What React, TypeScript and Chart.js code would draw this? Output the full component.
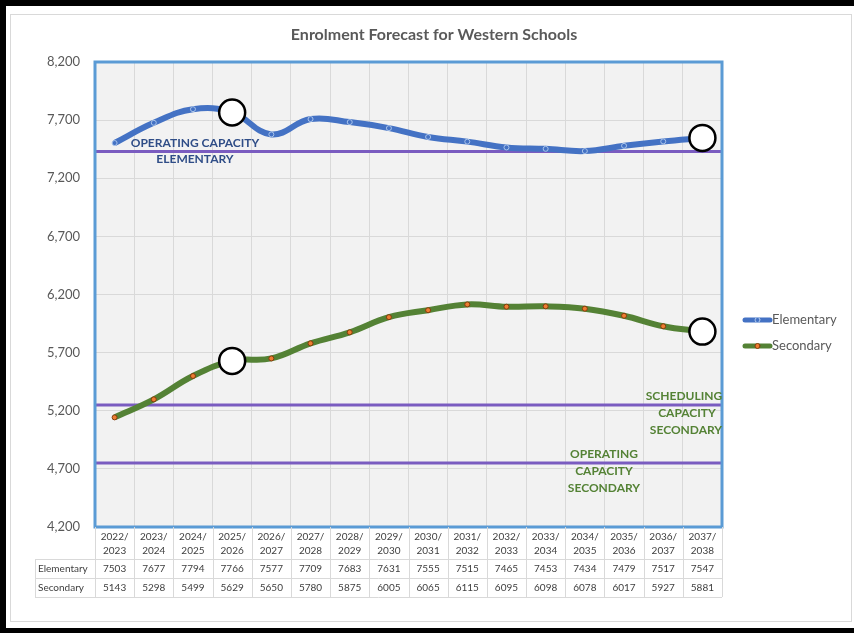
import React, { useEffect, useRef } from "react";
import { Chart, registerables } from "chart.js";

Chart.register(...registerables);

const categories: string[][] = [
  ["2022/", "2023"], ["2023/", "2024"], ["2024/", "2025"], ["2025/", "2026"],
  ["2026/", "2027"], ["2027/", "2028"], ["2028/", "2029"], ["2029/", "2030"],
  ["2030/", "2031"], ["2031/", "2032"], ["2032/", "2033"], ["2033/", "2034"],
  ["2034/", "2035"], ["2035/", "2036"], ["2036/", "2037"], ["2037/", "2038"],
];
const elementary = [7503, 7677, 7794, 7766, 7577, 7709, 7683, 7631, 7555, 7515, 7465, 7453, 7434, 7479, 7517, 7547];
const secondary = [5143, 5298, 5499, 5629, 5650, 5780, 5875, 6005, 6065, 6115, 6095, 6098, 6078, 6017, 5927, 5881];
const highlightIndexes = [3, 15];
const yTicks = [4200, 4700, 5200, 5700, 6200, 6700, 7200, 7700, 8200];
const operatingCapacityElementary = 7430;
const schedulingCapacitySecondary = 5250;
const operatingCapacitySecondary = 4750;
const seriesNames = ["Elementary", "Secondary"];
const titleText = "Enrolment Forecast for Western Schools";

const W = 854;
const H = 633;
const FONT = "Lato, 'Open Sans', sans-serif";
const BLUE = "#4472C4";
const GREEN = "#548235";
const PURPLE = "#7A5CC0";
const GRID = "#D9D9D9";

const pick = (arr: number[]) => arr.map((v, i) => (highlightIndexes.includes(i) ? v : null));

const decor = {
  id: "decor",
  beforeDraw(chart: any) {
    const { ctx, chartArea: a } = chart;
    ctx.save();
    ctx.fillStyle = "#fff";
    ctx.fillRect(0, 0, W, H);
    ctx.fillStyle = "#F2F2F2";
    ctx.fillRect(a.left, a.top, a.right - a.left, a.bottom - a.top);
    ctx.restore();
  },
  beforeDatasetsDraw(chart: any) {
    const { ctx, chartArea: a, scales } = chart;
    const y = scales.y;
    ctx.save();
    ctx.strokeStyle = PURPLE;
    ctx.lineWidth = 3;
    [operatingCapacityElementary, schedulingCapacitySecondary, operatingCapacitySecondary].forEach((v) => {
      const py = y.getPixelForValue(v);
      ctx.beginPath();
      ctx.moveTo(a.left, py);
      ctx.lineTo(a.right, py);
      ctx.stroke();
    });
    ctx.restore();
  },
  afterDatasetsDraw(chart: any) {
    const { ctx, chartArea: a, scales } = chart;
    const y = scales.y;
    ctx.save();
    ctx.strokeStyle = "#5B9BD5";
    ctx.lineWidth = 3;
    ctx.strokeRect(a.left, a.top, a.right - a.left, a.bottom - a.top);

    ctx.font = `bold 12px ${FONT}`;
    ctx.textAlign = "center";
    ctx.textBaseline = "middle";
    const ye = y.getPixelForValue(operatingCapacityElementary);
    ctx.fillStyle = "#2F4D87";
    ctx.fillText("OPERATING CAPACITY", 195, ye - 8);
    ctx.fillText("ELEMENTARY", 195, ye + 8);
    const ys = y.getPixelForValue(schedulingCapacitySecondary);
    ctx.fillStyle = GREEN;
    ctx.fillText("SCHEDULING", 684, ys - 9);
    ctx.fillText("CAPACITY", 687, ys + 8);
    ctx.fillText("SECONDARY", 686, ys + 25);
    const yo = y.getPixelForValue(operatingCapacitySecondary);
    ctx.fillText("OPERATING", 604, yo - 9);
    ctx.fillText("CAPACITY", 604, yo + 8);
    ctx.fillText("SECONDARY", 604, yo + 25);
    ctx.restore();
  },
  afterDraw(chart: any) {
    const { ctx, chartArea: a, scales } = chart;
    const x = scales.x;
    ctx.save();
    ctx.fillStyle = "#595959";
    ctx.font = `bold 16px ${FONT}`;
    ctx.textAlign = "center";
    ctx.textBaseline = "middle";
    ctx.fillText(titleText, 434, 35);

    const step = x.getPixelForValue(1) - x.getPixelForValue(0);
    const r0 = a.bottom + 32;
    const r1 = r0 + 19;
    const r2 = r1 + 19;
    const tableLeft = 35;
    ctx.strokeStyle = GRID;
    ctx.lineWidth = 1;
    for (let i = 0; i <= categories.length; i++) {
      const px = Math.round(x.getPixelForValue(0) - step / 2 + i * step) + 0.5;
      ctx.beginPath();
      ctx.moveTo(px, a.bottom);
      ctx.lineTo(px, r2);
      ctx.stroke();
    }
    [r0, r1, r2].forEach((ry) => {
      ctx.beginPath();
      ctx.moveTo(tableLeft, Math.round(ry) + 0.5);
      ctx.lineTo(a.right, Math.round(ry) + 0.5);
      ctx.stroke();
    });
    ctx.beginPath();
    ctx.moveTo(tableLeft + 0.5, r0);
    ctx.lineTo(tableLeft + 0.5, r2);
    ctx.stroke();

    ctx.fillStyle = "#404040";
    ctx.font = `10px ${FONT}`;
    ctx.textBaseline = "middle";
    ctx.textAlign = "left";
    ctx.fillText(seriesNames[0], tableLeft + 3, (r0 + r1) / 2);
    ctx.fillText(seriesNames[1], tableLeft + 3, (r1 + r2) / 2);
    ctx.textAlign = "center";
    elementary.forEach((v, i) => ctx.fillText(String(v), x.getPixelForValue(i), (r0 + r1) / 2));
    secondary.forEach((v, i) => ctx.fillText(String(v), x.getPixelForValue(i), (r1 + r2) / 2));

    const lx = a.right + 23;
    const legend = [
      { name: seriesNames[0], color: BLUE, mFill: BLUE, mStroke: "#A9C4EB", y: 320 },
      { name: seriesNames[1], color: GREEN, mFill: "#ED7D31", mStroke: "#843C0C", y: 346 },
    ];
    legend.forEach((l) => {
      ctx.strokeStyle = l.color;
      ctx.lineWidth = 5;
      ctx.lineCap = "round";
      ctx.beginPath();
      ctx.moveTo(lx, l.y);
      ctx.lineTo(lx + 25, l.y);
      ctx.stroke();
      ctx.lineWidth = 1;
      ctx.fillStyle = l.mFill;
      ctx.strokeStyle = l.mStroke;
      ctx.beginPath();
      ctx.arc(lx + 12.5, l.y, 2.5, 0, Math.PI * 2);
      ctx.fill();
      ctx.stroke();
      ctx.fillStyle = "#595959";
      ctx.font = `13px ${FONT}`;
      ctx.textAlign = "left";
      ctx.fillText(l.name, lx + 27, l.y);
    });

    ctx.strokeStyle = "#D9D9D9";
    ctx.lineWidth = 1;
    ctx.strokeRect(10.5, 14.5, 841, 607);
    ctx.fillStyle = "#000";
    ctx.fillRect(0, 0, W, 6);
    ctx.fillRect(0, 0, 6, H);
    ctx.fillRect(0, H - 5, W, 5);
    ctx.restore();
  },
};

export default function App() {
  const ref = useRef<HTMLCanvasElement>(null);
  useEffect(() => {
    document.body.style.margin = "0";
    const canvas = ref.current!;
    const chart = new Chart(canvas, {
      type: "line",
      data: {
        labels: categories,
        datasets: [
          {
            label: "highlight-elementary",
            data: pick(elementary),
            showLine: false,
            pointRadius: 13,
            pointBorderWidth: 2.5,
            pointBackgroundColor: "#fff",
            pointBorderColor: "#000",
            order: 0,
          },
          {
            label: "highlight-secondary",
            data: pick(secondary),
            showLine: false,
            pointRadius: 13,
            pointBorderWidth: 2.5,
            pointBackgroundColor: "#fff",
            pointBorderColor: "#000",
            order: 0,
          },
          {
            label: seriesNames[0],
            data: elementary,
            borderColor: BLUE,
            borderWidth: 6,
            tension: 0.4,
            pointRadius: 2.5,
            pointBorderWidth: 1,
            pointBackgroundColor: BLUE,
            pointBorderColor: "#A9C4EB",
            order: 1,
          },
          {
            label: seriesNames[1],
            data: secondary,
            borderColor: GREEN,
            borderWidth: 6,
            tension: 0.4,
            pointRadius: 2.5,
            pointBorderWidth: 1,
            pointBackgroundColor: "#ED7D31",
            pointBorderColor: "#843C0C",
            order: 2,
          },
        ],
      },
      options: {
        responsive: false,
        animation: false,
        devicePixelRatio: 1,
        layout: { padding: { left: 35, top: 62, right: 132, bottom: 74 } },
        plugins: { legend: { display: false }, title: { display: false }, tooltip: { enabled: false } },
        scales: {
          x: {
            type: "category",
            offset: true,
            grid: { offset: true, color: GRID, drawTicks: false },
            border: { display: false },
            ticks: {
              autoSkip: false,
              maxRotation: 0,
              minRotation: 0,
              padding: 3,
              color: "#404040",
              font: { family: FONT, size: 10, lineHeight: 1.4 },
            },
            afterFit: (s: any) => {
              s.height = 32;
            },
          },
          y: {
            min: yTicks[0],
            max: yTicks[yTicks.length - 1],
            afterBuildTicks: (s: any) => {
              s.ticks = yTicks.map((v) => ({ value: v }));
            },
            grid: { color: GRID, drawTicks: false },
            border: { display: false },
            ticks: {
              padding: 15,
              color: "#595959",
              font: { family: FONT, size: 13 },
              callback: (v: any) => Number(v).toLocaleString("en-US"),
            },
            afterFit: (s: any) => {
              s.width = 60;
            },
          },
        },
      },
      plugins: [decor],
    });
    return () => chart.destroy();
  }, []);
  return <canvas ref={ref} width={W} height={H} style={{ display: "block" }} />;
}
